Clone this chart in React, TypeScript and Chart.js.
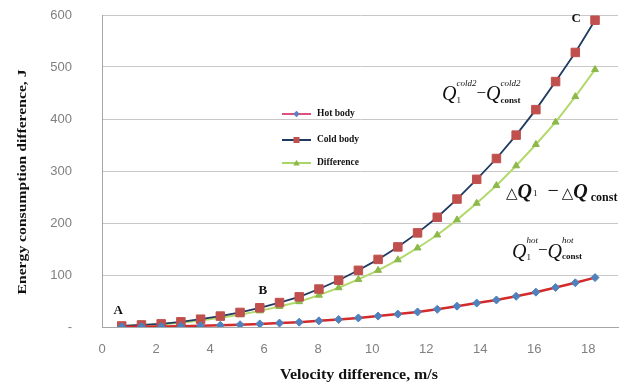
import React, { useEffect, useRef } from "react";
import { Chart, registerables } from "chart.js";

Chart.register(...registerables);

const velocity = [0.73, 1.46, 2.19, 2.92, 3.65, 4.38, 5.11, 5.84, 6.57, 7.3, 8.03, 8.76, 9.49, 10.22, 10.95, 11.68, 12.41, 13.14, 13.87, 14.6, 15.33, 16.06, 16.79, 17.52, 18.25];
const hotBody = [0.4, 0.7, 1, 1.6, 2.4, 3.4, 4.5, 6, 7.6, 9.3, 11.8, 14.5, 17.5, 21, 24.8, 29, 34, 40, 46, 52, 59, 67, 76, 85, 95];
const coldBody = [2, 4, 6, 10, 15, 21, 28, 37, 47, 58, 73, 90, 109, 130, 154, 181, 211, 246, 284, 324, 369, 418, 472, 528, 590];
const difference = [1.6, 3.3, 5, 8.4, 12.6, 17.6, 23.5, 31, 39.4, 48.7, 61.2, 75.5, 91.5, 109, 129.2, 152, 177, 206, 238, 272, 310, 351, 394, 443, 495];
const seriesNames = ["Hot body", "Cold body", "Difference"];
const yTicks = [0, 100, 200, 300, 400, 500, 600];
const xTicks = [0, 2, 4, 6, 8, 10, 12, 14, 16, 18];

const SERIF = '"Liberation Serif", "DejaVu Serif", serif';

type Piece = { t?: string; font?: string; dy?: number; sup?: string; sub?: string; supFont?: string; subFont?: string; supDy?: number; subDy?: number; gap?: number };

function drawMath(ctx: CanvasRenderingContext2D, x: number, y: number, pieces: Piece[]) {
  let cx = x;
  ctx.textBaseline = "alphabetic";
  ctx.textAlign = "left";
  ctx.fillStyle = "#111";
  for (const p of pieces) {
    if (p.t !== undefined) {
      ctx.font = p.font || `20px ${SERIF}`;
      ctx.fillText(p.t, cx, y + (p.dy || 0));
      cx += ctx.measureText(p.t).width + (p.gap || 0);
    } else {
      let w = 0;
      if (p.sup) {
        ctx.font = p.supFont || `italic 9px ${SERIF}`;
        ctx.fillText(p.sup, cx, y + (p.supDy ?? -11));
        w = Math.max(w, ctx.measureText(p.sup).width);
      }
      if (p.sub) {
        ctx.font = p.subFont || `bold 9px ${SERIF}`;
        ctx.fillText(p.sub, cx, y + (p.subDy ?? 4));
        w = Math.max(w, ctx.measureText(p.sub).width);
      }
      cx += w + (p.gap || 0);
    }
  }
}

function fitText(ctx: CanvasRenderingContext2D, text: string, cx: number, cy: number, width: number, angle: number) {
  const w = ctx.measureText(text).width;
  ctx.save();
  ctx.translate(cx, cy);
  ctx.rotate(angle);
  ctx.scale(width / w, 1);
  ctx.fillText(text, 0, 0);
  ctx.restore();
}

function marker(ctx: CanvasRenderingContext2D, shape: string, x: number, y: number, r: number) {
  ctx.beginPath();
  if (shape === "rect") {
    ctx.rect(x - r, y - r, 2 * r, 2 * r);
  } else if (shape === "rectRot") {
    ctx.moveTo(x, y - r);
    ctx.lineTo(x + r, y);
    ctx.lineTo(x, y + r);
    ctx.lineTo(x - r, y);
    ctx.closePath();
  } else {
    ctx.moveTo(x, y - r);
    ctx.lineTo(x + r, y + r * 0.8);
    ctx.lineTo(x - r, y + r * 0.8);
    ctx.closePath();
  }
  ctx.fill();
}

const annotationsPlugin = {
  id: "annots",
  afterDraw(chart: any) {
    const ctx = chart.ctx as CanvasRenderingContext2D;
    const xs = chart.scales.x;
    const ys = chart.scales.y;
    ctx.save();
    // axis titles
    ctx.fillStyle = "#111";
    ctx.textAlign = "center";
    ctx.textBaseline = "middle";
    ctx.font = `bold 13.5px ${SERIF}`;
    fitText(ctx, "Energy consumption difference, J", 23, 182, 225, -Math.PI / 2);
    ctx.font = `bold 14px ${SERIF}`;
    fitText(ctx, "Velocity difference, m/s", 359, 375, 158, 0);

    // point letters
    ctx.font = `bold 13px ${SERIF}`;
    ctx.fillText("A", xs.getPixelForValue(0.6), ys.getPixelForValue(31));
    ctx.fillText("B", xs.getPixelForValue(5.95), ys.getPixelForValue(69));
    ctx.fillText("C", xs.getPixelForValue(17.55), ys.getPixelForValue(593));

    // legend
    const legendX = 282;
    const rows = [
      { y: 114, line: "#E0507A", marker: "#5B7FC0", shape: "rectRot", r: 3.2 },
      { y: 140, line: "#1F3A60", marker: "#C0504D", shape: "rect", r: 3 },
      { y: 163, line: "#A9D46A", marker: "#8DB84A", shape: "triangle", r: 3.2 },
    ];
    rows.forEach((r, i) => {
      ctx.strokeStyle = r.line;
      ctx.lineWidth = 2;
      ctx.beginPath();
      ctx.moveTo(legendX, r.y);
      ctx.lineTo(legendX + 29, r.y);
      ctx.stroke();
      ctx.fillStyle = r.marker;
      marker(ctx, r.shape, legendX + 14.5, r.y, r.r);
      ctx.fillStyle = "#111";
      ctx.font = `bold 9.5px ${SERIF}`;
      ctx.textAlign = "left";
      ctx.textBaseline = "middle";
      ctx.fillText(seriesNames[i], legendX + 35, r.y);
    });

    // formulas
    const Qf = `italic 20px ${SERIF}`;
    const QfB = `bold italic 20px ${SERIF}`;
    drawMath(ctx, 442, 100, [
      { t: "Q", font: Qf },
      { sup: "cold2", sub: "1", subFont: `9px ${SERIF}`, supDy: -14, subDy: 3 },
      { t: "\u2212", font: `17px ${SERIF}`, dy: -2 },
      { t: "Q", font: Qf },
      { sup: "cold2", sub: "const", supDy: -14, subDy: 3 },
    ]);
    drawMath(ctx, 506, 198, [
      { t: "\u25B3", font: `15px ${SERIF}`, gap: 0 },
      { t: "Q", font: QfB, gap: 1 },
      { sub: "1", subFont: `9px ${SERIF}`, subDy: -2, gap: 10 },
      { t: "\u2212", font: `20px ${SERIF}`, dy: -1, gap: 3 },
      { t: "\u25B3", font: `15px ${SERIF}` },
      { t: "Q", font: QfB, gap: 3 },
      { sub: "const", subFont: `bold 12px ${SERIF}`, subDy: 3 },
    ]);
    drawMath(ctx, 512, 258, [
      { t: "Q", font: Qf },
      { sup: "hot", sub: "1", subFont: `9px ${SERIF}`, supDy: -15, subDy: 2 },
      { t: "\u2212", font: `17px ${SERIF}`, dy: -3 },
      { t: "Q", font: Qf },
      { sup: "hot", sub: "const", supDy: -15, subDy: 1 },
    ]);
    ctx.restore();
  },
};

export default function App() {
  const ref = useRef<HTMLCanvasElement>(null);
  useEffect(() => {
    if (!ref.current) return;
    const tickFont = { family: '"Liberation Sans", Arial, sans-serif', size: 13 };
    const chart = new Chart(ref.current, {
      type: "line",
      data: {
        datasets: [
          {
            label: seriesNames[0],
            data: velocity.map((v, i) => ({ x: v, y: hotBody[i] })),
            borderColor: "#D42A2A",
            borderWidth: 2.5,
            pointStyle: "rectRot",
            pointRadius: 4,
            pointBackgroundColor: "#4F81BD",
            pointBorderColor: "#4F81BD",
            pointBorderWidth: 1,
          },
          {
            label: seriesNames[1],
            data: velocity.map((v, i) => ({ x: v, y: coldBody[i] })),
            borderColor: "#1F3A60",
            borderWidth: 1.8,
            pointStyle: "rect",
            pointRadius: 6,
            pointBackgroundColor: "#C0504D",
            pointBorderColor: "#C0504D",
            pointBorderWidth: 1,
          },
          {
            label: seriesNames[2],
            data: velocity.map((v, i) => ({ x: v, y: difference[i] })),
            borderColor: "#B2D96C",
            borderWidth: 2,
            pointStyle: "triangle",
            pointRadius: 4,
            pointBackgroundColor: "#8DB84A",
            pointBorderColor: "#8DB84A",
            pointBorderWidth: 1,
          },
        ],
      },
      options: {
        animation: false,
        responsive: false,
        maintainAspectRatio: false,
        layout: { padding: { left: 0, right: 22, top: 15, bottom: 0 } },
        plugins: { legend: { display: false }, tooltip: { enabled: false } },
        elements: { line: { tension: 0 } },
        scales: {
          x: {
            type: "linear",
            min: 0,
            max: 19.1,
            afterFit: (s: any) => { s.height = 58; s.paddingLeft = 0; s.paddingRight = 0; },
            afterBuildTicks: (s: any) => { s.ticks = xTicks.map((v) => ({ value: v })); },
            grid: { display: false, drawTicks: false },
            border: { display: true, color: "#A6A6A6", width: 1 },
            ticks: { color: "#808080", font: tickFont, padding: 15, maxRotation: 0, autoSkip: false },
          },
          y: {
            type: "linear",
            min: 0,
            max: 600,
            afterFit: (s: any) => { s.width = 102; s.paddingTop = 0; s.paddingBottom = 0; },
            afterBuildTicks: (s: any) => { s.ticks = yTicks.map((v) => ({ value: v })); },
            grid: { color: "#C8C8C8", lineWidth: 1, drawTicks: false },
            border: { display: true, color: "#A6A6A6", width: 1 },
            ticks: {
              color: "#808080",
              font: tickFont,
              padding: 30,
              callback: (v: any) => (v === 0 ? "-" : String(v)),
            },
          },
        },
      },
      plugins: [annotationsPlugin],
    });
    return () => chart.destroy();
  }, []);
  return (
    <div style={{ position: "fixed", left: 0, top: 0, width: 640, height: 385, background: "#fff" }}>
      <canvas ref={ref} width={640} height={385} style={{ width: 640, height: 385 }} />
    </div>
  );
}
